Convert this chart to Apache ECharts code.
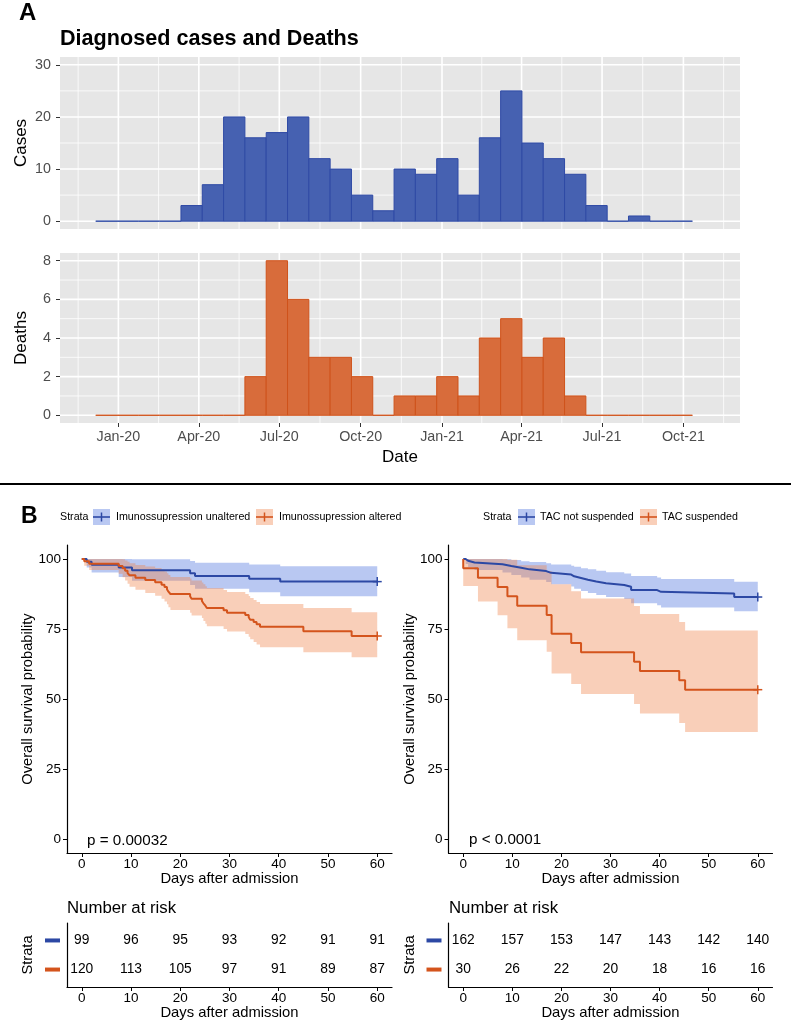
<!DOCTYPE html>
<html><head><meta charset="utf-8">
<script src="https://cdn.jsdelivr.net/npm/echarts@6/dist/echarts.min.js"></script>
<style>html,body{margin:0;padding:0;background:#fff}#c{width:791px;height:1022px}</style>
</head><body><div id="c"></div><script>
// ================= DATA =================
// Panel A: histogram bins (days since 2020-01-01)
const binStartDay = -25.6;
const binWidthDays = 24.1;
const casesCounts  = [0,0,0,0,3,7,20,16,17,20,12,10,5,2,10,9,12,5,16,25,15,12,9,3,0,1,0,0];
const deathsCounts = [0,0,0,0,0,0,0,2,8,6,3,3,2,0,1,1,2,1,4,5,3,4,1,0,0,0,0,0];
const dateTickDays   = [0,91,182,274,366,456,547,639];
const dateTickLabels = ['Jan-20','Apr-20','Jul-20','Oct-20','Jan-21','Apr-21','Jul-21','Oct-21'];
const dateMinorDays  = [-45.5,45.5,136.5,228,320,411,501.5,593,684.5];
const casesTicks  = [0,10,20,30];
const casesMinor  = [5,15,25];
const deathsTicks = [0,2,4,6,8];
const deathsMinor = [1,3,5,7];

// Panel B left: Imunossupression unaltered / altered
const unaltTimes = [0,1,2,7.5,10.2,22,23,34,40.3,60];
const unaltSurv  = [100,98.99,97.98,96.97,95.96,94.95,93.94,92.93,91.92,91.92];
const unaltLower = [100,97.0,95.2,93.6,92.2,90.7,89.4,88.1,86.7,86.7];
const unaltUpper = [100,100,100,100,99.9,99.3,98.7,98.0,97.4,97.4];

const altTimes = [0,0.5,1.5,7.5,8.3,8.8,9.3,9.7,10.9,12.9,14.9,16.2,16.8,17.3,17.6,18.0,22.0,22.3,24.4,24.7,25.1,25.4,28.8,29.5,33.2,33.9,34.2,34.9,35.5,36.2,45.0,54.8,60];
const altSurv  = [100,99.17,98.33,97.5,96.67,95.83,95.0,94.17,93.33,92.5,91.67,90.83,90.0,89.17,88.33,87.5,86.67,85.83,85.0,84.17,83.33,82.5,81.67,80.83,80.0,79.17,78.33,77.5,76.67,75.83,74.17,72.5,72.5];
const altLower = [100,97.6,96.1,94.7,93.5,92.3,91.2,90.1,89.0,87.9,86.9,85.8,84.8,83.8,82.8,81.8,80.8,79.8,78.9,77.9,76.9,76.0,75.0,74.1,73.2,72.2,71.3,70.4,69.5,68.5,66.7,64.9,64.9];
const altUpper = [100,100,100,100,99.9,99.5,99.0,98.5,97.9,97.3,96.8,96.2,95.5,94.9,94.3,93.6,93.0,92.3,91.6,91.0,90.3,89.6,88.9,88.2,87.5,86.8,86.1,85.4,84.6,83.9,82.5,81.0,81.0];

// Panel B right: TAC not suspended / suspended
const tacNoTimes = [0,0.5,1.0,2.3,8.0,9.8,11.8,13.5,16.9,17.9,22.0,22.6,24.0,25.4,27.1,29.1,32.8,34.2,39.5,40.3,55.2,60];
const tacNoSurv  = [100,99.38,98.77,98.15,97.53,96.91,96.30,95.68,95.06,94.44,93.83,93.21,92.59,91.98,91.36,90.74,90.12,88.89,88.27,87.65,86.42,86.42];
const tacNoLower = [100,98.2,97.1,96.1,95.2,94.3,93.4,92.6,91.8,91.0,90.2,89.4,88.6,87.9,87.1,86.4,85.7,84.2,83.5,82.7,81.3,81.3];
const tacNoUpper = [100,100,100,100,99.9,99.6,99.2,98.9,98.5,98.0,97.6,97.2,96.7,96.3,95.8,95.3,94.8,93.9,93.4,92.9,91.9,91.9];

const tacSuTimes = [0,0,3,7,9,11,17,18,22,24,34.8,36,44,45.2,60];
const tacSuSurv  = [100,96.67,93.33,90.0,86.67,83.33,80.0,73.33,70.0,66.67,63.33,60.0,56.67,53.33,53.33];
const tacSuLower = [100,90.4,84.8,79.9,75.3,71.0,66.9,59.1,55.4,51.8,48.2,44.8,41.4,38.2,38.2];
const tacSuUpper = [100,100,100,100,99.7,97.8,95.7,91.0,88.5,85.9,83.2,80.4,77.5,74.5,74.5];

// Number at risk
const riskTimes = [0,10,20,30,40,50,60];
const riskUnalt = [99,96,95,93,92,91,91];
const riskAlt   = [120,113,105,97,91,89,87];
const riskTacNo = [162,157,153,147,143,142,140];
const riskTacSu = [30,26,22,20,18,16,16];

const kmTicks = [0,10,20,30,40,50,60];
const survTicks = [0,25,50,75,100];

// ================= STYLE =================
const FONT = '"Liberation Sans", Arial, sans-serif';
const BLUE = '#2c48a4', ORANGE = '#d4541c';
const BLUE_BAND = 'rgba(70,110,220,0.38)', ORANGE_BAND = 'rgba(238,128,70,0.38)';
const CASE_FILL = '#4661b1', CASE_STROKE = '#2f4aa5';
const DEATH_FILL = '#d86c3b', DEATH_STROKE = '#cf531b';

// ================= SERIES BUILDERS =================
function gridLines(ai, vMaj, vMin, hMaj, hMin) {
  const data = [];
  vMaj.forEach(v => data.push([v, 0, 0]));
  vMin.forEach(v => data.push([v, 0, 1]));
  hMaj.forEach(v => data.push([0, v, 2]));
  hMin.forEach(v => data.push([0, v, 3]));
  return {type:'custom', xAxisIndex:ai, yAxisIndex:ai, z:1, silent:true, animation:false,
    data, encode:{x:0, y:1},
    renderItem(params, api) {
      const cs = params.coordSys, k = api.value(2);
      const w = (k === 0 || k === 2) ? 1.6 : 0.8;
      if (k < 2) {
        const x = api.coord([api.value(0), 0])[0];
        return {type:'line', shape:{x1:x, y1:cs.y, x2:x, y2:cs.y+cs.height}, style:{stroke:'#fff', lineWidth:w}};
      }
      const y = api.coord([0, api.value(1)])[1];
      return {type:'line', shape:{x1:cs.x, y1:y, x2:cs.x+cs.width, y2:y}, style:{stroke:'#fff', lineWidth:w}};
    }};
}
function histSeries(ai, counts, fill, stroke) {
  const data = counts.map((c, i) => [binStartDay + i*binWidthDays, binStartDay + (i+1)*binWidthDays, c]);
  return {type:'custom', xAxisIndex:ai, yAxisIndex:ai, z:3, silent:true, data, encode:{x:[0,1], y:2},
    renderItem(params, api) {
      const p0 = api.coord([api.value(0), 0]);
      const p1 = api.coord([api.value(1), api.value(2)]);
      return {type:'rect', shape:{x:p0[0], y:p1[1], width:p1[0]-p0[0], height:p0[1]-p1[1]},
        style:{fill:fill, stroke:stroke, lineWidth:1}};
    }};
}
function bandSeries(ai, times, lower, upper, fill) {
  const data = times.map((t, i) => [t, lower[i], upper[i]]);
  return {type:'custom', xAxisIndex:ai, yAxisIndex:ai, z:2, silent:true, data, encode:{x:0, y:[1,2]},
    renderItem(params, api) {
      if (params.dataIndex !== 0) return null;
      const pts = [];
      for (let i = 0; i < data.length-1; i++) {
        pts.push(api.coord([data[i][0], data[i][2]]));
        pts.push(api.coord([data[i+1][0], data[i][2]]));
      }
      for (let i = data.length-2; i >= 0; i--) {
        pts.push(api.coord([data[i+1][0], data[i][1]]));
        pts.push(api.coord([data[i][0], data[i][1]]));
      }
      return {type:'polygon', shape:{points:pts}, style:{fill:fill}};
    }};
}
function kmLine(ai, times, surv, color) {
  return {type:'line', xAxisIndex:ai, yAxisIndex:ai, z:4, step:'end', showSymbol:false, symbol:'none',
    silent:true, data: times.map((t, i) => [t, surv[i]]),
    lineStyle:{color:color, width:2}};
}
function censorSeries(ai, times, surv, color) {
  const n = times.length - 1;
  return {type:'custom', xAxisIndex:ai, yAxisIndex:ai, z:5, silent:true, data:[[times[n], surv[n]]],
    encode:{x:0, y:1},
    renderItem(params, api) {
      const p = api.coord([api.value(0), api.value(1)]);
      return {type:'group', children:[
        {type:'line', shape:{x1:p[0]-4.5, y1:p[1], x2:p[0]+4.5, y2:p[1]}, style:{stroke:color, lineWidth:1.5}},
        {type:'line', shape:{x1:p[0], y1:p[1]-4.5, x2:p[0], y2:p[1]+4.5}, style:{stroke:color, lineWidth:1.5}}
      ]};
    }};
}
function riskSeries(ai, topN, botN) {
  const data = [];
  riskTimes.forEach((t, i) => { data.push([t, 2, topN[i]]); data.push([t, 1, botN[i]]); });
  return {type:'custom', xAxisIndex:ai, yAxisIndex:ai, z:3, silent:true, data, encode:{x:0, y:1},
    renderItem(params, api) {
      const p = api.coord([api.value(0), api.value(1)]);
      return {type:'text', x:p[0], y:p[1], style:{text:String(api.value(2)), align:'center', verticalAlign:'middle',
        textAlign:'center', textVerticalAlign:'middle', font:'13.8px ' + FONT, fill:'#000'}};
    }};
}

// ================= AXES =================
const greyLbl = {color:'#4d4d4d', fontSize:14.3, fontFamily:FONT};
function dateX(gi, showLabels) {
  return {type:'value', gridIndex:gi, min:-66, max:703,
    axisLine:{show:false, onZero:false}, splitLine:{show:false},
    axisTick:{show:showLabels, customValues:dateTickDays, length:4, lineStyle:{color:'#333', width:1}},
    axisLabel:{show:showLabels, customValues:dateTickDays, margin:7, ...greyLbl,
      formatter:(v) => { const i = dateTickDays.indexOf(Math.round(v)); return i >= 0 ? dateTickLabels[i] : ''; }}};
}
function countY(gi, min, max, ticks) {
  return {type:'value', gridIndex:gi, min:min, max:max,
    axisLine:{show:false, onZero:false}, splitLine:{show:false},
    axisTick:{show:true, customValues:ticks, length:4, lineStyle:{color:'#333', width:1}},
    axisLabel:{customValues:ticks, margin:9, ...greyLbl}};
}
const blackLbl = {color:'#000', fontSize:13.5, fontFamily:FONT};
function kmX(gi) {
  return {type:'value', gridIndex:gi, min:-3, max:63, splitLine:{show:false},
    axisLine:{show:true, onZero:false, lineStyle:{color:'#000', width:1.2}},
    axisTick:{show:true, customValues:kmTicks, length:4, lineStyle:{color:'#000', width:1}},
    axisLabel:{customValues:kmTicks, margin:4, ...blackLbl}};
}
function kmY(gi) {
  return {type:'value', gridIndex:gi, min:-5, max:105, splitLine:{show:false},
    axisLine:{show:true, onZero:false, lineStyle:{color:'#000', width:1.2}},
    axisTick:{show:true, customValues:survTicks, length:4, lineStyle:{color:'#000', width:1}},
    axisLabel:{customValues:survTicks, margin:6, ...blackLbl}};
}
function riskY(gi) {
  return {type:'value', gridIndex:gi, min:0.4, max:2.6, splitLine:{show:false},
    axisLine:{show:true, onZero:false, lineStyle:{color:'#000', width:1.2}},
    axisTick:{show:false},
    axisLabel:{customValues:[1,2], margin:7,
      formatter:(v) => v > 1.5 ? '{b| }' : '{o| }',
      rich:{b:{backgroundColor:BLUE, width:15, height:4, lineHeight:4, fontSize:4},
            o:{backgroundColor:ORANGE, width:15, height:4, lineHeight:4, fontSize:4}}}};
}

// ================= GRAPHIC TEXT =================
function txt(text, x, y, size, opts) {
  opts = opts || {};
  return {type:'text', x:x, y:y, rotation:opts.rot || 0, silent:true,
    style:{text:text, font:(opts.bold ? 'bold ' : '') + size + 'px ' + FONT, fill:opts.color || '#000',
      align:opts.align || 'left', verticalAlign:'middle'}};
}
function legendKey(x, y, band, line) {
  return [
    {type:'rect', shape:{x:x, y:y-8, width:17, height:16}, style:{fill:band}, silent:true},
    {type:'line', shape:{x1:x, y1:y, x2:x+17, y2:y}, style:{stroke:line, lineWidth:1.6}, silent:true},
    {type:'line', shape:{x1:x+8.5, y1:y-4.5, x2:x+8.5, y2:y+4.5}, style:{stroke:line, lineWidth:1.5}, silent:true}
  ];
}
const ROT = Math.PI/2;
const LEG = 10.7;
const graphics = [
  txt('A', 19, 13, 24, {bold:true}),
  txt('Diagnosed cases and Deaths', 60, 39, 21.6, {bold:true}),
  txt('Cases', 21, 143, 17, {rot:ROT, align:'center'}),
  txt('Deaths', 21, 338, 17, {rot:ROT, align:'center'}),
  txt('Date', 400, 457, 17, {align:'center'}),
  {type:'rect', shape:{x:0, y:483, width:791, height:2}, style:{fill:'#000'}, silent:true},
  txt('B', 21, 517, 23, {bold:true}),
  txt('Strata', 60, 517, LEG),
  ...legendKey(93, 517, BLUE_BAND, BLUE),
  txt('Imunossupression unaltered', 116, 517, LEG),
  ...legendKey(256, 517, ORANGE_BAND, ORANGE),
  txt('Imunossupression altered', 279, 517, LEG),
  txt('Strata', 483, 517, LEG),
  ...legendKey(518, 517, BLUE_BAND, BLUE),
  txt('TAC not suspended', 540, 517, LEG),
  ...legendKey(640, 517, ORANGE_BAND, ORANGE),
  txt('TAC suspended', 662, 517, LEG),
  txt('Overall survival probability', 28, 699, 14.7, {rot:ROT, align:'center'}),
  txt('Overall survival probability', 410, 699, 14.7, {rot:ROT, align:'center'}),
  txt('p = 0.00032', 87, 841, 15.2),
  txt('p < 0.0001', 469, 840, 15.2),
  txt('Days after admission', 229.5, 879, 14.8, {align:'center'}),
  txt('Days after admission', 610.5, 879, 14.8, {align:'center'}),
  txt('Number at risk', 67, 908, 16.8),
  txt('Number at risk', 449, 908, 16.8),
  txt('Strata', 28, 955, 14.7, {rot:ROT, align:'center'}),
  txt('Strata', 410, 955, 14.7, {rot:ROT, align:'center'}),
  txt('Days after admission', 229.5, 1013, 14.8, {align:'center'}),
  txt('Days after admission', 610.5, 1013, 14.8, {align:'center'})
];

// ================= OPTION =================
const option = {
  animation:false,
  backgroundColor:'#fff',
  grid:[
    {left:60, top:57, width:680, height:172, show:true, backgroundColor:'#e6e6e6', borderWidth:0},
    {left:60, top:253, width:680, height:170, show:true, backgroundColor:'#e6e6e6', borderWidth:0},
    {left:67, top:545, width:325, height:308},
    {left:448.5, top:545, width:324, height:308},
    {left:67, top:923, width:325, height:64},
    {left:448.5, top:923, width:324, height:64}
  ],
  xAxis:[dateX(0, false), dateX(1, true), kmX(2), kmX(3), kmX(4), kmX(5)],
  yAxis:[countY(0, -1.5, 31.5, casesTicks), countY(1, -0.4, 8.4, deathsTicks), kmY(2), kmY(3), riskY(4), riskY(5)],
  series:[
    gridLines(0, dateTickDays, dateMinorDays, casesTicks, casesMinor),
    gridLines(1, dateTickDays, dateMinorDays, deathsTicks, deathsMinor),
    histSeries(0, casesCounts, CASE_FILL, CASE_STROKE),
    histSeries(1, deathsCounts, DEATH_FILL, DEATH_STROKE),
    bandSeries(2, unaltTimes, unaltLower, unaltUpper, BLUE_BAND),
    bandSeries(2, altTimes, altLower, altUpper, ORANGE_BAND),
    kmLine(2, unaltTimes, unaltSurv, BLUE),
    kmLine(2, altTimes, altSurv, ORANGE),
    censorSeries(2, unaltTimes, unaltSurv, BLUE),
    censorSeries(2, altTimes, altSurv, ORANGE),
    bandSeries(3, tacNoTimes, tacNoLower, tacNoUpper, BLUE_BAND),
    bandSeries(3, tacSuTimes, tacSuLower, tacSuUpper, ORANGE_BAND),
    kmLine(3, tacNoTimes, tacNoSurv, BLUE),
    kmLine(3, tacSuTimes, tacSuSurv, ORANGE),
    censorSeries(3, tacNoTimes, tacNoSurv, BLUE),
    censorSeries(3, tacSuTimes, tacSuSurv, ORANGE),
    riskSeries(4, riskUnalt, riskAlt),
    riskSeries(5, riskTacNo, riskTacSu)
  ],
  graphic:graphics
};
const chart = echarts.init(document.getElementById('c'));
chart.setOption(option);
</script></body></html>
